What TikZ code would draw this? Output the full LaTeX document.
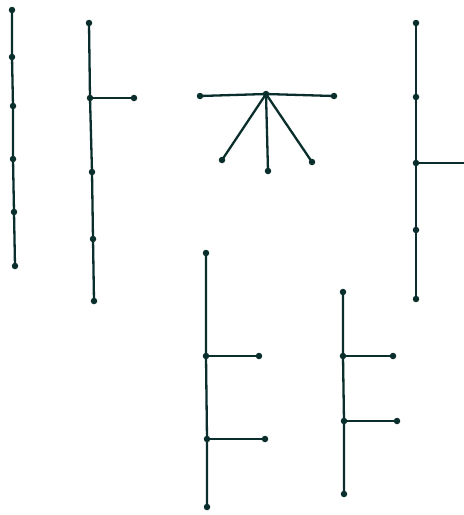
\documentclass[tikz,border=0pt]{standalone}
\definecolor{edgecol}{rgb}{0.04,0.18,0.17}
\begin{document}
\begin{tikzpicture}[x=1pt,y=-1pt,
  vtx/.style={circle,fill=edgecol,draw=none,inner sep=0pt,minimum size=6.5pt},
  edge/.style={draw=edgecol,line width=2.3pt}]
\useasboundingbox (0,0) rectangle (464,515);
% graph 1: path
\node[vtx] (a1) at (12,10) {};
\node[vtx] (a2) at (12,57) {};
\node[vtx] (a3) at (13,106) {};
\node[vtx] (a4) at (13,159) {};
\node[vtx] (a5) at (14,212) {};
\node[vtx] (a6) at (15,266) {};
\draw[edge] (a1.center) -- (a2.center) -- (a3.center) -- (a4.center) -- (a5.center) -- (a6.center);
% graph 2
\node[vtx] (b1) at (89,23) {};
\node[vtx] (b2) at (90,98) {};
\node[vtx] (b3) at (134,98) {};
\node[vtx] (b4) at (92,172) {};
\node[vtx] (b5) at (93,239) {};
\node[vtx] (b6) at (94,301) {};
\draw[edge] (b1.center) -- (b2.center) -- (b4.center) -- (b5.center) -- (b6.center);
\draw[edge] (b2.center) -- (b3.center);
% graph 3: star
\node[vtx] (c0) at (266,94) {};
\node[vtx] (c1) at (200,96) {};
\node[vtx] (c2) at (334,96) {};
\node[vtx] (c3) at (222,160) {};
\node[vtx] (c4) at (268,171) {};
\node[vtx] (c5) at (312,162) {};
\draw[edge] (c1.center) -- (c0.center) -- (c2.center);
\draw[edge] (c0.center) -- (c3.center);
\draw[edge] (c0.center) -- (c4.center);
\draw[edge] (c0.center) -- (c5.center);
% graph 4
\node[vtx] (d1) at (416,23) {};
\node[vtx] (d2) at (416,97) {};
\node[vtx] (d3) at (416,163) {};
\node[vtx] (d4) at (416,230) {};
\node[vtx] (d5) at (416,299) {};
\coordinate (d6) at (465,163);
\draw[edge] (d1.center) -- (d2.center) -- (d3.center) -- (d4.center) -- (d5.center);
\draw[edge] (d3.center) -- (d6);
% graph 5
\node[vtx] (e1) at (206,253) {};
\node[vtx] (e2) at (206,356) {};
\node[vtx] (e3) at (259,356) {};
\node[vtx] (e4) at (207,439) {};
\node[vtx] (e5) at (265,439) {};
\node[vtx] (e6) at (207,507) {};
\draw[edge] (e1.center) -- (e2.center) -- (e4.center) -- (e6.center);
\draw[edge] (e2.center) -- (e3.center);
\draw[edge] (e4.center) -- (e5.center);
% graph 6
\node[vtx] (f1) at (343,292) {};
\node[vtx] (f2) at (343,356) {};
\node[vtx] (f3) at (393,356) {};
\node[vtx] (f4) at (344,421) {};
\node[vtx] (f5) at (397,421) {};
\node[vtx] (f6) at (344,494) {};
\draw[edge] (f1.center) -- (f2.center) -- (f4.center) -- (f6.center);
\draw[edge] (f2.center) -- (f3.center);
\draw[edge] (f4.center) -- (f5.center);
\end{tikzpicture}
\end{document}
